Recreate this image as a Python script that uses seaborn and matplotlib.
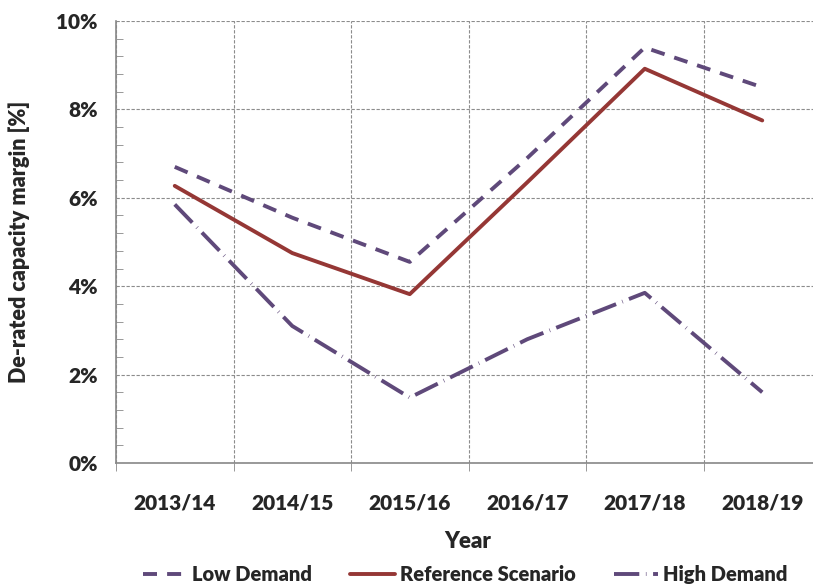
'''de-rated capacity margin chart'''
import pandas as pd
import matplotlib
matplotlib.use('Agg')
import matplotlib.pyplot as plt
from matplotlib.ticker import MultipleLocator, FixedLocator, PercentFormatter
import seaborn as sns

years = ['2013/14', '2014/15', '2015/16', '2016/17', '2017/18', '2018/19']
low_demand = [6.7, 5.55, 4.55, 6.9, 9.4, 8.5]
reference = [6.27, 4.75, 3.82, 6.35, 8.92, 7.75]
high_demand = [5.85, 3.1, 1.48, 2.8, 3.85, 1.6]
series_names = ['Low Demand', 'Reference Scenario', 'High Demand']


def main():
    '''
    main
    '''
    df = pd.DataFrame({
        'Year': years * 3,
        'value': low_demand + reference + high_demand,
        'series': [s for s in series_names for _ in years],
    })

    sns.set_style('white')
    plt.rcParams['font.family'] = ['Lato', 'DejaVu Sans']
    plt.rcParams['font.weight'] = 'heavy'

    fig = plt.figure(figsize=(8.13, 5.85), dpi=100)
    ax = fig.add_axes([116 / 813, 122 / 585, 705 / 813, 442 / 585])

    purple = '#5F497A'
    red = '#953735'
    sns.lineplot(data=df, x='Year', y='value', hue='series', style='series',
                 hue_order=series_names, style_order=series_names,
                 palette={'Low Demand': purple, 'Reference Scenario': red,
                          'High Demand': purple},
                 dashes={'Low Demand': (3.6, 2.6), 'Reference Scenario': '',
                         'High Demand': (6.5, 1.7, 0.15, 1.7)},
                 linewidth=2.8, sort=False, ax=ax)

    ax.set_xlim(-0.5, 5.5)
    ax.set_ylim(0, 10)

    # y axis
    ax.yaxis.set_major_locator(MultipleLocator(2))
    ax.yaxis.set_minor_locator(MultipleLocator(0.4))
    ax.yaxis.set_major_formatter(PercentFormatter(decimals=0))
    ax.tick_params(axis='y', which='major', direction='out', length=7,
                   color='#888888', labelsize=15, pad=6)
    ax.tick_params(axis='y', which='minor', direction='in', length=5,
                   color='#888888', left=True)

    # x axis: labels at centres, ticks/grid at boundaries
    ax.xaxis.set_minor_locator(FixedLocator([i - 0.5 for i in range(7)]))
    ax.tick_params(axis='x', which='major', length=0, labelsize=15,
                   pad=22)
    ax.tick_params(axis='x', which='minor', direction='out', length=6,
                   color='#888888', bottom=True)

    ax.grid(True, axis='y', which='major', color='#8c8c8c',
            linestyle=(0, (3, 1.5)), linewidth=0.8)
    ax.grid(True, axis='x', which='minor', color='#8c8c8c',
            linestyle=(0, (3, 1.5)), linewidth=0.8)
    ax.set_axisbelow(True)

    for side in ['top', 'right']:
        ax.spines[side].set_visible(False)
    for side in ['left', 'bottom']:
        ax.spines[side].set_color('#888888')
        ax.spines[side].set_linewidth(1.2)

    ax.set_xlabel('Year', fontsize=16, fontweight='heavy')
    ax.set_ylabel('De-rated capacity margin [%]', fontsize=15.5,
                  fontweight='heavy')
    ax.xaxis.set_label_coords(352 / 705, -68 / 442)
    ax.yaxis.set_label_coords(-86 / 705, 0.5)

    handles, labels = ax.get_legend_handles_labels()
    ax.get_legend().remove()
    fig.legend(handles, labels, loc='lower center', ncol=3,
               bbox_to_anchor=(0.572, -0.03), frameon=False,
               fontsize=14.5, handlelength=2.2, handletextpad=0.25,
               columnspacing=1.9)

    fig.savefig('out.png', dpi=100)


if __name__ == '__main__':
    main()
